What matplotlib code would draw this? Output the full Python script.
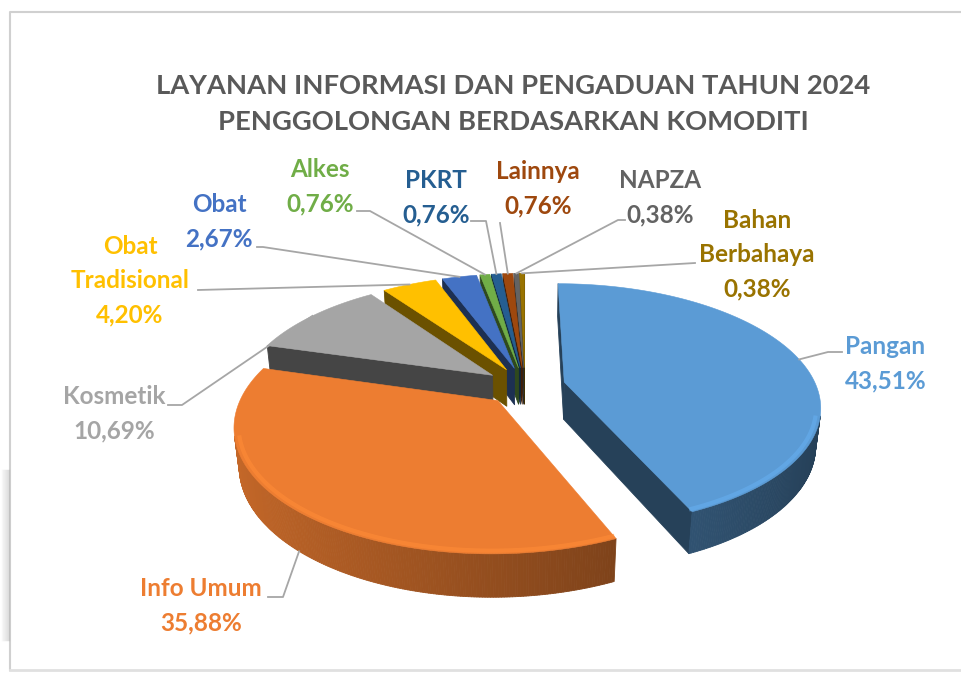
import matplotlib.pyplot as plt
import numpy as np
from matplotlib.collections import PolyCollection
from matplotlib.colors import to_rgb

# data
names = ['Pangan', 'Info Umum', 'Kosmetik', 'Obat\nTradisional', 'Obat',
         'Alkes', 'PKRT', 'Lainnya', 'NAPZA', 'Bahan\nBerbahaya']
values = [43.51, 35.88, 10.69, 4.20, 2.67, 0.76, 0.76, 0.76, 0.38, 0.38]
colors = ['#5B9BD5', '#ED7D31', '#A5A5A5', '#FFC000', '#4472C4',
          '#70AD47', '#255E91', '#9E480E', '#636363', '#997300']
title = 'LAYANAN INFORMASI DAN PENGADUAN TAHUN 2024\nPENGGOLONGAN BERDASARKAN KOMODITI'

# layout of the labels (image pixels): text centre, alignment, leader start points
label_pos = [(845, 364, 'left'), (201, 606, 'center'), (114, 414, 'center'),
             (130, 281, 'center'), (219, 222, 'center'), (320, 187, 'center'),
             (436, 198, 'center'), (538, 189, 'center'), (660, 198, 'center'),
             (757, 255, 'center')]
leader_start = [[(842, 352), (828, 352)], [(268, 597), (283, 597)],
                [(168, 405), (182, 405)], [(198, 290)], [(257, 247), (263, 247)],
                [(357, 211), (370, 211)], [(471, 221), (486, 221)],
                [(500, 223)], [(625, 220), (618, 220)], [(695, 263)]]

# 3d pie geometry
phi = np.radians(28)
D = 4.7
k = 252
s = k * D
x0, y0 = 525, 386
h = 0.17
explode = 0.16
cphi, sphi = np.cos(phi), np.sin(phi)
cam = np.array([0, -D * cphi, D * sphi])


def proj(px, py, pz):
    px, py, pz = np.asarray(px, float), np.asarray(py, float), np.asarray(pz, float)
    d = D + py * cphi - pz * sphi
    return x0 + s * px / d, y0 - s * (py * sphi + pz * cphi) / d


def shade(c, f):
    r = np.array(to_rgb(c)) * f
    return tuple(np.clip(r, 0, 1))


fig = plt.figure(figsize=(9.62, 6.73), dpi=100)
ax = fig.add_axes([0, 0, 1, 1])
ax.set_xlim(0, 962)
ax.set_ylim(673, 0)
ax.axis('off')

# frame
ax.plot([10, 10, 962], [670, 12, 12], color='#d0d0d0', lw=1.5)
ax.plot([10, 962], [670, 670], color='#e0e0e0', lw=2)
for i in range(8):
    ax.plot([9 - i, 9 - i], [470, 640], color='#b0b0b0', alpha=0.35 - i * 0.04, lw=1)

fracs = np.array(values) / sum(values)
starts = np.concatenate([[0], np.cumsum(fracs)[:-1]]) * 360
ends = np.cumsum(fracs) * 360

walls = []  # (distance, polygon, colour)
tops = []
rims = []
anchors = []
for i, (a0, a1) in enumerate(zip(starts, ends)):
    mid = np.radians((a0 + a1) / 2)
    ox, oy = explode * np.sin(mid), explode * np.cos(mid)
    t = np.radians(np.linspace(a0, a1, max(3, int((a1 - a0) * 2))))
    rx, ry = ox + np.sin(t), oy + np.cos(t)
    # top face
    X, Y = proj(np.r_[ox, rx], np.r_[oy, ry], np.zeros(len(t) + 1))
    tops.append((np.column_stack([X, Y]), colors[i]))
    # outer wall segments
    vis = []
    for j in range(len(t) - 1):
        tm = (t[j] + t[j + 1]) / 2
        n = np.array([np.sin(tm), np.cos(tm), 0])
        p = np.array([ox + np.sin(tm), oy + np.cos(tm), -h / 2])
        if np.dot(cam - p, n) <= 0:
            continue
        vis.append(j)
        qx = [rx[j], rx[j + 1], rx[j + 1], rx[j]]
        qy = [ry[j], ry[j + 1], ry[j + 1], ry[j]]
        qz = [0, 0, -h, -h]
        X, Y = proj(qx, qy, qz)
        f = np.clip(0.62 - 0.22 * np.sin(tm), 0.42, 0.85)
        walls.append((np.linalg.norm(cam - p), np.column_stack([X, Y]), shade(colors[i], f)))
    if len(vis) > 3:
        idx = np.r_[vis, vis[-1] + 1]
        X, Y = proj(rx[idx] * 0.985, ry[idx] * 0.985, np.zeros(len(idx)))
        rims.append((np.column_stack([X, Y]), colors[i]))
    # radial walls
    for ang, sgn in ((a0, -1), (a1, 1)):
        ta = np.radians(ang)
        nang = ta + sgn * np.pi / 2
        n = np.array([np.sin(nang), np.cos(nang), 0])
        p = np.array([ox + 0.5 * np.sin(ta), oy + 0.5 * np.cos(ta), -h / 2])
        if np.dot(cam - p, n) <= 0:
            continue
        qx = [ox, ox + np.sin(ta), ox + np.sin(ta), ox]
        qy = [oy, oy + np.cos(ta), oy + np.cos(ta), oy]
        qz = [0, 0, -h, -h]
        X, Y = proj(qx, qy, qz)
        walls.append((np.linalg.norm(cam - p), np.column_stack([X, Y]), shade(colors[i], 0.42)))
    # leader anchor on the rim at the mid angle
    front = np.cos(mid) < -0.3
    ax_, ay_ = proj(ox + np.sin(mid), oy + np.cos(mid), -h if front else 0)
    anchors.append((float(ax_), float(ay_)))

walls.sort(key=lambda w: -w[0])
ax.add_collection(PolyCollection([w[1] for w in walls], facecolors=[w[2] for w in walls],
                                 edgecolors=[w[2] for w in walls], linewidths=0.6))
ax.add_collection(PolyCollection([tp[0] for tp in tops], facecolors=[tp[1] for tp in tops],
                                 edgecolors=[tp[1] for tp in tops], linewidths=0.4))
# soft bevel highlight on the front rim
for pts, c in rims:
    ax.plot(pts[:, 0], pts[:, 1], color=shade(c, 1.12), lw=3, alpha=0.6,
            solid_capstyle='butt')

# title
ax.text(513, 104, title, ha='center', va='center', fontsize=19.7, fontweight='bold',
        color='#595959', family='Lato', linespacing=1.62)

# labels and leaders
for i, name in enumerate(names):
    lx, ly, ha = label_pos[i]
    txt = name + '\n' + f'{values[i]:.2f}'.replace('.', ',') + '%'
    ax.text(lx, ly, txt, ha=ha, va='center', multialignment=ha, fontsize=17.5,
            fontweight='bold', color=colors[i], family='Lato', linespacing=1.6)
    pts = leader_start[i] + [anchors[i]]
    ax.plot([p[0] for p in pts], [p[1] for p in pts], color='#a6a6a6', lw=1.3)

fig.savefig('out.png', dpi=100)
